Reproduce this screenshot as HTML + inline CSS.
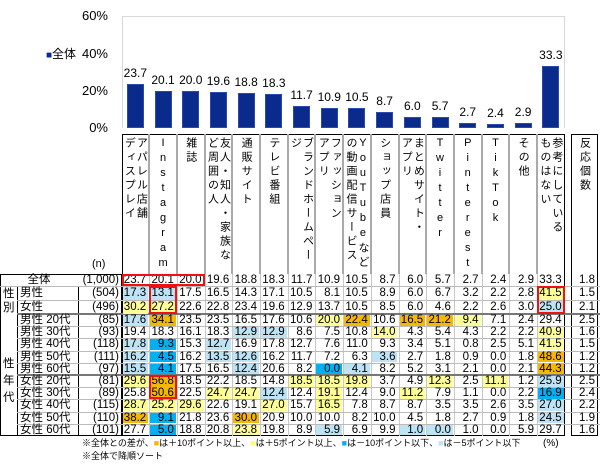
<!DOCTYPE html>
<html><head><meta charset="utf-8">
<style>
body{margin:0;width:600px;height:464px;overflow:hidden;background:#fff;font-family:"Liberation Sans","Noto Sans CJK JP",sans-serif;position:relative}
.a{position:absolute}
.hd{position:absolute;top:137px;writing-mode:vertical-rl;text-orientation:upright;font-size:11px;line-height:12px;letter-spacing:3px;color:#000;white-space:nowrap;display:flex;justify-content:flex-start;align-items:center}
.cell{position:absolute;font-size:11.5px;text-align:right;box-sizing:border-box;padding-right:2px;white-space:nowrap}
.lbl{position:absolute;font-size:11.5px;line-height:12px;white-space:nowrap}
</style></head><body>
<div id="root"></div>
<script>
const categories=["アパレル店舗<br>ディスプレイ","Instagram","雑誌","友人・知人・家族な<br>ど周囲の人","通販サイト","テレビ番組","ブランドホームペー<br>ジ","ファッション<br>アプリ","YouTubeなど<br>の動画配信サービス","ショップ店員","まとめサイト・<br>アプリ","Twitter","Pinterest","TikTok","その他","参考にしている<br>ものはない"];
const totalValues=[23.7,20.1,20.0,19.6,18.8,18.3,11.7,10.9,10.5,8.7,6.0,5.7,2.7,2.4,2.9,33.3];
const yTicks=[0,20,40,60];
const rowLabels=["全体","男性","女性","男性 20代","男性 30代","男性 40代","男性 50代","男性 60代","女性 20代","女性 30代","女性 40代","女性 50代","女性 60代"];
const rowN=["(1,000)","(504)","(496)","(85)","(93)","(118)","(111)","(97)","(81)","(89)","(115)","(110)","(101)"];
const tableValues=[
[23.7,20.1,20.0,19.6,18.8,18.3,11.7,10.9,10.5,8.7,6.0,5.7,2.7,2.4,2.9,33.3],
[17.3,13.1,17.5,16.5,14.3,17.1,10.5,8.1,10.5,8.9,6.0,6.7,3.2,2.2,2.8,41.5],
[30.2,27.2,22.6,22.8,23.4,19.6,12.9,13.7,10.5,8.5,6.0,4.6,2.2,2.6,3.0,25.0],
[17.6,34.1,23.5,23.5,16.5,17.6,10.6,20.0,22.4,10.6,16.5,21.2,9.4,7.1,2.4,29.4],
[19.4,18.3,16.1,18.3,12.9,12.9,8.6,7.5,10.8,14.0,4.3,5.4,4.3,2.2,2.2,40.9],
[17.8,9.3,15.3,12.7,16.9,17.8,12.7,7.6,11.0,9.3,3.4,5.1,0.8,2.5,5.1,41.5],
[16.2,4.5,16.2,13.5,12.6,16.2,11.7,7.2,6.3,3.6,2.7,1.8,0.9,0.0,1.8,48.6],
[15.5,4.1,17.5,16.5,12.4,20.6,8.2,0.0,4.1,8.2,5.2,3.1,2.1,0.0,2.1,44.3],
[29.6,56.8,18.5,22.2,18.5,14.8,18.5,18.5,19.8,3.7,4.9,12.3,2.5,11.1,1.2,25.9],
[25.8,50.6,22.5,24.7,24.7,12.4,12.4,19.1,12.4,9.0,11.2,7.9,1.1,0.0,2.2,16.9],
[28.7,25.2,29.6,22.6,19.1,27.0,15.7,16.5,7.8,8.7,8.7,3.5,3.5,2.6,3.5,27.0],
[38.2,9.1,21.8,23.6,30.0,20.9,10.0,10.0,8.2,10.0,4.5,1.8,2.7,0.9,1.8,24.5],
[27.7,5.0,18.8,20.8,23.8,19.8,8.9,5.9,6.9,9.9,1.0,0.0,1.0,0.0,5.9,29.7]];
const responseCounts=[1.8,1.5,2.1,2.5,1.6,1.5,1.2,1.2,2.5,2.4,2.2,1.9,1.6];

const root=document.getElementById('root');
const X0=121.5,CW=27.7,Y0=128,PXPER=1.86;
const xCenter=i=>X0+CW*i+CW/2;
const yPos=v=>Y0-v*PXPER;
function mk(cls,style,html){const d=document.createElement('div');d.className=cls;d.style.cssText=style;if(html!==undefined)d.innerHTML=html;root.appendChild(d);return d;}

let pb=mk('a',`left:${X0}px;top:${yPos(60)}px;width:${565-X0}px;height:${Y0-yPos(60)}px;border:1px solid #d8d8d8;border-bottom:none;box-sizing:border-box`);


yTicks.forEach(t=>{
 const d=mk('lbl',`left:70px;width:38px;text-align:right;top:${yPos(t)-7}px;font-size:13px;line-height:14px`,t+'%');
 
 
});
let lg=mk('lbl',`left:46px;top:${yPos(40)-7}px;font-size:12px;line-height:14px`,'<span style="color:#0a2a8c;font-size:10px">■</span>全体');


totalValues.forEach((v,i)=>{
 const b=mk('a',`left:${xCenter(i)-8.5}px;top:${yPos(v)}px;width:17px;height:${v*PXPER}px;background:#0a2a8c;border:1px solid #2a4ab0;box-sizing:border-box`);
 
 
 const l=mk('lbl',`left:${xCenter(i)-20}px;width:40px;text-align:center;top:${yPos(v)-17}px;font-size:12px`,v.toFixed(1));
 
 
});

const HT=134,RT=[274,286,300,314];for(let i=1;i<=10;i++)RT.push(314+12.2*i);
const TB=RT[13];
let hb=mk('a',`left:${X0}px;top:${HT}px;width:${CW*16}px;height:${TB-HT}px;border:1px solid #000;box-sizing:border-box`);


for(let i=1;i<16;i++){const l=mk('a',`left:${X0+CW*i-1}px;top:${HT}px;width:2px;height:${RT[0]-HT}px;background:#aaa`);
 const l2=mk('a',`left:${X0+CW*i}px;top:${RT[0]}px;width:1px;height:${TB-RT[0]}px;background:#c8c8c8`);}
categories.forEach((c,i)=>{
 const h=mk('hd',`left:${X0+CW*i}px;width:${CW}px;height:134px`,'<span>'+c+'</span>');
 
 
});
let rc=mk('a',`left:571px;top:${HT}px;width:27px;height:${TB-HT}px;border:1px solid #000;box-sizing:border-box`);


let rh=mk('hd',`left:571px;width:27px;height:134px`,'<span>反応個数</span>');


let lb=mk('a',`left:0;top:${RT[0]}px;width:${X0}px;height:${TB-RT[0]}px;border:1px solid #000;border-right:none;box-sizing:border-box`);


[[17,RT[1]],[78,RT[1]]].forEach(([x,y])=>{const l=mk('a',`left:${x}px;top:${y}px;width:1px;height:${TB-y}px;background:#000`);});
let nl=mk('a',`left:${X0-1}px;top:${RT[0]}px;width:1px;height:${TB-RT[0]}px;background:#000`);
let nh=mk('lbl',`left:92px;top:258px;font-size:11px`,'(n)');
let g1=mk('lbl',`left:3px;top:${RT[1]+1}px;line-height:14px;width:12px`,'性<br>別');
let g2=mk('lbl',`left:3px;top:${RT[3]+42}px;line-height:17px;width:12px`,'性<br>年<br>代');
for(let r=1;r<13;r++){
 const thick=(r==3||r==8);
 const s=mk('a',`left:${r==1?0:17}px;top:${RT[r]-(thick?1:0)}px;width:${600-(r==1?0:17)}px;height:${thick?2:1}px;background:${thick?'#777':'#bbb'}`);
 
}
const colorOf=(v,base)=>{const d=v-base;if(d>=10)return'#f5b800';if(d>=5)return'#ffff99';if(d<=-10)return'#00b0f0';if(d<=-5)return'#bde3f5';return'';};
tableValues.forEach((row,r)=>{
 const top=RT[r],h=RT[r+1]-RT[r];
 const rl=mk('lbl',(r==0?`left:0;width:78px;text-align:center;`:`left:20px;`)+`top:${top}px;line-height:${h}px`,rowLabels[r]);
 
 const nn=mk('lbl',`left:78px;width:41px;text-align:right;top:${top}px;line-height:${h}px`,rowN[r]);
 
 row.forEach((v,c)=>{
  const bg=r==0?'':colorOf(v,tableValues[0][c]);
  const cl=mk('cell',`left:${X0+CW*c+1}px;top:${top+1}px;width:${CW-2}px;height:${h-1.5}px;line-height:${h-1.5}px;${bg?'background:'+bg:''}`,v.toFixed(1));
  
 });
 const rv=mk('cell',`left:571px;top:${top+1}px;width:26px;height:${h-1.5}px;line-height:${h-1.5}px`,responseCounts[r].toFixed(1));
 
});
[[0,2,0,0],[1,1,1,2],[1,1,8,9],[15,15,1,2]].forEach(([c0,c1,r0,r1])=>{
 const b=mk('a',`left:${X0+CW*c0}px;top:${RT[r0]}px;width:${CW*(c1-c0+1)}px;height:${RT[r1+1]-RT[r0]}px;border:2px solid #f01010;box-sizing:border-box`);
 
});
let f1=mk('lbl',`left:82px;top:438px;font-size:9px;line-height:11px`,'※全体との差が、<span style="color:#f5b800">■</span>は＋10ポイント以上、<span style="color:#ffff66">■</span>は＋5ポイント以上、<span style="color:#00b0f0">■</span>は－10ポイント以下、<span style="color:#bde3f5">■</span>は－5ポイント以下');

let f2=mk('lbl',`left:543px;top:438px;font-size:10px;line-height:11px`,'(%)');
let f3=mk('lbl',`left:82px;top:451px;font-size:9px;line-height:11px`,'※全体で降順ソート');
</script>
</body></html>
